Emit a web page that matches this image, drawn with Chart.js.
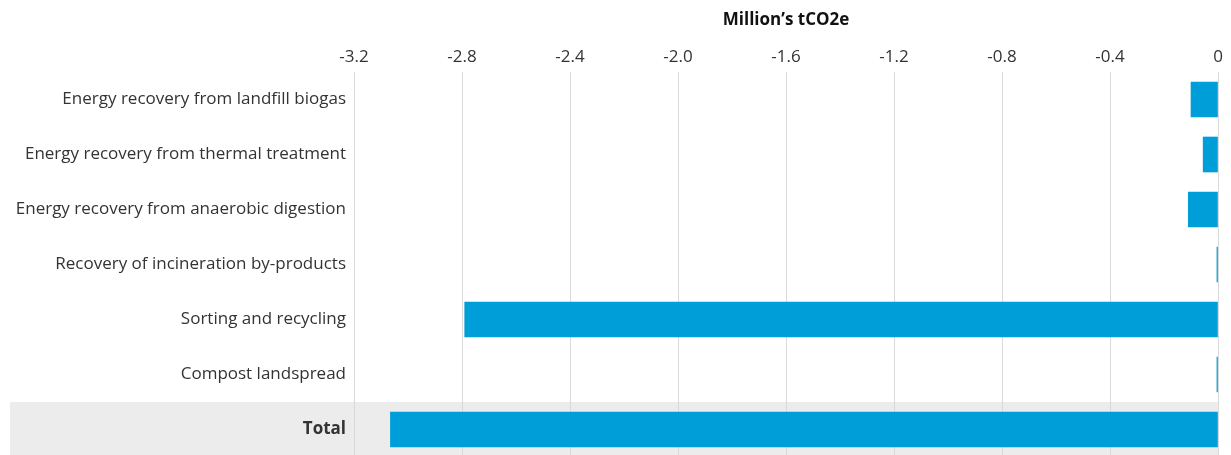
<!DOCTYPE html>
<html>
<head>
<meta charset="utf-8">
<script src="https://cdn.jsdelivr.net/npm/chart.js@4"></script>
<style>
  html, body { margin: 0; padding: 0; background: #fff; overflow: hidden; }
  #wrap { width: 1231px; height: 457px; position: relative; }
</style>
</head>
<body>
<div id="wrap"><canvas id="barras"></canvas></div>
<script>
// ************************* DATOS *************************
const categorias = [
  "Energy recovery from landfill biogas",
  "Energy recovery from thermal treatment",
  "Energy recovery from anaerobic digestion",
  "Recovery of incineration by-products",
  "Sorting and recycling",
  "Compost landspread",
  "Total",
];
const valores = [-0.1, -0.055, -0.11, -0.004, -2.79, -0.004, -3.065];
const ticksX = [-3.2, -2.8, -2.4, -2.0, -1.6, -1.2, -0.8, -0.4, 0];

const FUENTE = "'Open Sans', 'Noto Sans', sans-serif";

/**
 * Banda gris detrás de la fila del total
 */
const bandaTotal = {
  id: "bandaTotal",
  beforeDraw(chart) {
    const ctx = chart.ctx;
    const y = chart.scales.y;
    const area = chart.chartArea;
    const centro = y.getPixelForValue(categorias.length - 1);
    const paso = area.height / categorias.length;
    ctx.save();
    ctx.fillStyle = "#ececec";
    ctx.fillRect(10, centro - paso / 2, area.right - 10, paso);
    ctx.restore();
  },
};

new Chart(document.getElementById("barras"), {
  type: "bar",
  data: {
    labels: categorias,
    datasets: [
      {
        data: valores,
        backgroundColor: "#009ed8",
        barThickness: 35,
      },
    ],
  },
  options: {
    indexAxis: "y",
    responsive: true,
    maintainAspectRatio: false,
    animation: false,
    layout: { padding: { left: 0, right: 13, top: 0, bottom: 0 } },
    plugins: { legend: { display: false }, tooltip: { enabled: false } },
    scales: {
      x: {
        position: "top",
        min: -3.2,
        max: 0,
        afterBuildTicks(axis) {
          axis.ticks = ticksX.map((v) => ({ value: v }));
        },
        afterFit(axis) {
          axis.height = 72;
        },
        ticks: {
          color: "#333",
          padding: 5,
          font: { family: FUENTE, size: 17 },
          callback: (v) => (v === 0 ? "0" : v.toFixed(1)),
        },
        grid: { color: "#d9d9d9", drawTicks: false },
        border: { display: false },
        title: {
          display: true,
          text: "Million’s tCO2e",
          color: "#111",
          font: { family: FUENTE, size: 17, weight: "bold" },
          padding: { top: 10, bottom: 0 },
        },
      },
      y: {
        afterFit(axis) {
          axis.width = 354;
          // sin margen extra arriba/abajo por las etiquetas
          axis.paddingTop = 0;
          axis.paddingBottom = 0;
        },
        ticks: {
          color: "#333",
          padding: 8,
          font: (ctx) => ({
            family: FUENTE,
            size: 17,
            weight: ctx.index === categorias.length - 1 ? "bold" : "normal",
          }),
        },
        grid: { display: false, drawTicks: false },
        border: { display: false },
      },
    },
  },
  plugins: [bandaTotal],
});
</script>
</body>
</html>
